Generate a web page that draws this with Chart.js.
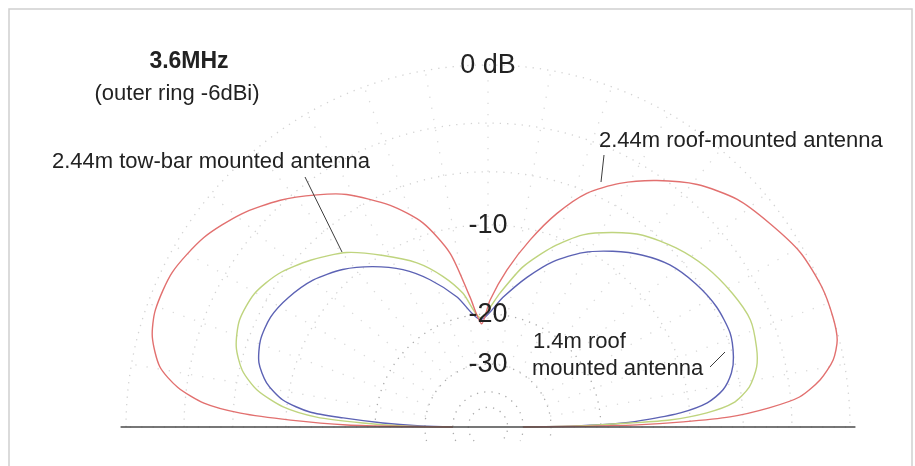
<!DOCTYPE html>
<html><head><meta charset="utf-8">
<script src="https://cdn.jsdelivr.net/npm/chart.js@4/dist/chart.umd.min.js"></script>
<style>html,body{margin:0;padding:0;background:#fff;}canvas{display:block;}</style>
</head><body>
<canvas id="c" width="915" height="466"></canvas>
<script>
// ---- DATA (angle in degrees measured from the right-hand horizon, gain in dB relative to outer ring) ----
const roofAngles = [0, 0.3, 0.8, 1.5, 2.4, 3.9, 5.5, 8.1, 11.0, 14.0, 17.6, 22.7, 29.2, 35.9, 42.4, 49.2, 55.6, 61.6, 67.1, 72.1, 77.3, 83.1, 89.1, 93.5, 97.9, 102.3, 107.7, 113.8, 121.3, 126.4, 132.5, 139.2, 146.3, 153.9, 160.6, 165.0, 169.6, 172.7, 175.2, 176.8, 178.0, 179.2, 179.7, 180];
const roofGains  = [-40, -25, -15.2, -10.6, -6.9, -4.3, -2.5, -1.3, -0.5, -0.1, 0, 0, -0.2, -0.7, -1.2, -2.1, -3.3, -4.6, -6.1, -8.2, -10.9, -14.2, -18.0, -21.5, -17.4, -12.2, -9.0, -6.9, -4.9, -3.9, -2.8, -1.8, -1.0, -0.5, -0.45, -0.7, -1.4, -2.5, -4.1, -6.5, -10.4, -16.2, -25, -40];

const towAngles = [0, 0.6, 1.6, 2.2, 3.7, 5.6, 8.7, 12.6, 16.6, 22.2, 28.7, 36.2, 43.6, 51.1, 57.3, 63.7, 70.1, 77.7, 84.9, 94.0, 100.6, 106.7, 113.4, 121.4, 129.0, 136.8, 143.9, 150.3, 156.7, 162.3, 167.0, 170.9, 174.4, 176.7, 178.2, 179.3, 180];
const towGains  = [-40, -24, -16.0, -11.8, -8.6, -6.6, -5.4, -4.7, -4.4, -4.2, -4.5, -5.0, -5.7, -6.6, -7.7, -9.0, -10.9, -13.6, -17.0, -20.5, -16.8, -14.3, -12.1, -10.1, -8.2, -6.8, -5.7, -5.1, -5.0, -5.4, -6.2, -7.5, -9.7, -12.8, -18.2, -25, -40];

const shortAngles = [0, 0.7, 1.7, 2.8, 4.2, 6.3, 9.0, 12.5, 15.9, 21.2, 27.7, 34.6, 41.7, 48.0, 54.6, 61.4, 68.5, 75.4, 83.4, 94.0, 103.4, 111.5, 118.4, 125.7, 132.7, 140.0, 147.1, 153.2, 159.1, 164.3, 168.7, 172.5, 175.2, 176.4, 177.8, 179.0, 180];
const shortGains  = [-40, -24, -16.9, -13.8, -10.8, -8.5, -7.2, -6.4, -6.0, -5.7, -5.8, -6.2, -6.8, -7.7, -8.9, -10.3, -12.2, -14.6, -17.5, -20.8, -17.1, -14.2, -12.1, -10.4, -9.0, -7.9, -7.2, -6.8, -6.8, -7.2, -8.1, -9.6, -12.1, -15.7, -21.2, -28, -40];

const seriesNames = ['2.44m roof-mounted antenna', '2.44m tow-bar mounted antenna', '1.4m roof mounted antenna'];
const ringLevels = [0, -3, -6, -10, -20, -30, -40, -50];
const ringLabelLevels = [0, -10, -20, -30];
const ringLabels = ['0 dB', '-10', '-20', '-30'];
const radialAngles = [0, 10, 20, 30, 40, 50, 60, 70, 80, 90, 100, 110, 120, 130, 140, 150, 160, 170, 180];
const titleText = '3.6MHz';
const subtitleText = '(outer ring -6dBi)';

// ---- layout ----
const W = 915, H = 466, CX = 488, CY = 427, R = 362;

// ARRL log-periodic radial scale: 0.89 per 2 dB
function rho(db) { return Math.pow(0.89, -db / 2); }
function toXY(angles, gains) {
  return angles.map((a, i) => {
    const r = rho(gains[i]), t = a * Math.PI / 180;
    return { x: r * Math.cos(t), y: r * Math.sin(t) };
  });
}

const gridPlugin = {
  id: 'polarGrid',
  beforeDatasetsDraw(chart) {
    const ctx = chart.ctx, xs = chart.scales.x, ys = chart.scales.y;
    const cx = xs.getPixelForValue(0), cy = ys.getPixelForValue(0);
    const unit = xs.getPixelForValue(1) - cx;
    ctx.save();
    ctx.lineWidth = 1.3;
    ctx.setLineDash([1.3, 6]);
    ringLevels.forEach(db => {
      const r = rho(db) * unit;
      ctx.strokeStyle = db <= -20 ? '#ababab' : '#d3d3d3';
      const ext = db <= -30 ? Math.asin(Math.min(1, 14 / r)) : 0;
      ctx.beginPath();
      ctx.arc(cx, cy, r, Math.PI - ext, 2 * Math.PI + ext);
      ctx.stroke();
    });
    ctx.strokeStyle = '#dadada';
    ctx.setLineDash([1.3, 10]);
    const r0 = rho(-30) * unit;
    radialAngles.forEach(a => {
      const t = a * Math.PI / 180;
      ctx.beginPath();
      ctx.moveTo(cx + Math.cos(t) * r0, cy - Math.sin(t) * r0);
      ctx.lineTo(cx + Math.cos(t) * unit, cy - Math.sin(t) * unit);
      ctx.stroke();
    });
    ctx.restore();
  },
  afterDatasetsDraw(chart) {
    const ctx = chart.ctx, xs = chart.scales.x, ys = chart.scales.y;
    const cx = xs.getPixelForValue(0), cy = ys.getPixelForValue(0);
    const unit = xs.getPixelForValue(1) - cx;
    ctx.save();
    // ground line
    ctx.strokeStyle = '#4a4a4a';
    ctx.lineWidth = 1.6;
    ctx.beginPath();
    ctx.moveTo(xs.getPixelForValue(-1.015), cy);
    ctx.lineTo(xs.getPixelForValue(1.015), cy);
    ctx.stroke();
    // frame
    ctx.strokeStyle = '#d0d0d0';
    ctx.lineWidth = 1.5;
    ctx.beginPath();
    ctx.moveTo(9, H); ctx.lineTo(9, 9); ctx.lineTo(912, 9); ctx.lineTo(912, H);
    ctx.stroke();
    // leader lines
    ctx.strokeStyle = '#3c3c3c';
    ctx.lineWidth = 1;
    [[305, 177, 342, 252], [604, 155, 601, 182], [710, 367, 725, 352]].forEach(l => {
      ctx.beginPath(); ctx.moveTo(l[0], l[1]); ctx.lineTo(l[2], l[3]); ctx.stroke();
    });
    // ring labels
    ctx.fillStyle = '#222';
    ctx.textAlign = 'center';
    ctx.textBaseline = 'alphabetic';
    ctx.font = '27px "Liberation Sans", Arial, sans-serif';
    ringLabelLevels.forEach((db, i) => {
      const y = cy - rho(db) * unit + 8;
      ctx.fillText(ringLabels[i], cx, y);
    });
    // title
    ctx.font = 'bold 23px "Liberation Sans", Arial, sans-serif';
    ctx.fillText(titleText, 189, 68);
    ctx.font = '22px "Liberation Sans", Arial, sans-serif';
    ctx.fillText(subtitleText, 177, 100);
    // series labels
    ctx.textAlign = 'left';
    ctx.fillText(seriesNames[1], 52, 168);
    ctx.fillText(seriesNames[0], 599, 147);
    ctx.fillText('1.4m roof', 533, 348);
    ctx.fillText('mounted antenna', 532, 375);
    ctx.restore();
  }
};

new Chart(document.getElementById('c'), {
  type: 'scatter',
  data: {
    datasets: [
      { label: seriesNames[0], data: toXY(roofAngles, roofGains), borderColor: '#e2706f' },
      { label: seriesNames[1], data: toXY(towAngles, towGains), borderColor: '#bfd47e' },
      { label: seriesNames[2], data: toXY(shortAngles, shortGains), borderColor: '#5c62b4' }
    ].map(d => Object.assign(d, { showLine: true, tension: 0.25, borderWidth: 1.4, pointRadius: 0, fill: false }))
  },
  options: {
    responsive: false,
    animation: false,
    layout: { padding: 0 },
    plugins: { legend: { display: false }, tooltip: { enabled: false } },
    scales: {
      x: { type: 'linear', display: false, min: -CX / R, max: (W - CX) / R },
      y: { type: 'linear', display: false, min: -(H - CY) / R, max: CY / R }
    }
  },
  plugins: [gridPlugin]
});
</script>
</body></html>
